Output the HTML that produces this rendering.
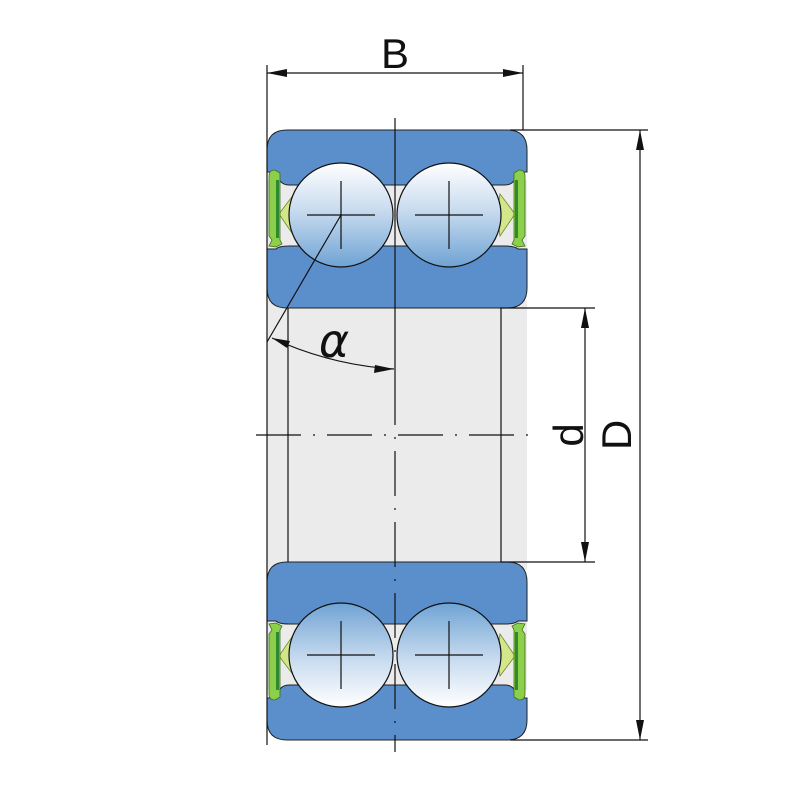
<!DOCTYPE html>
<html><head><style>body{margin:0;background:#fff}svg{display:block}</style></head><body>
<svg width="800" height="800" viewBox="0 0 800 800" xmlns="http://www.w3.org/2000/svg">
<defs>
<linearGradient id="ball" x1="0" y1="0" x2="0" y2="1">
<stop offset="0" stop-color="#ffffff"/><stop offset="0.45" stop-color="#c9dcef"/><stop offset="1" stop-color="#6fa3d4"/>
</linearGradient>
<g id="half">
<rect x="267" y="180" width="260" height="72" fill="#ebebeb"/>
<path d="M287,130 H507 Q527,130 527,150 V172 H518 Q515,185 505,185 H289 Q279,185 276,172 H267 V150 Q267,130 287,130 Z" fill="#5b8fcc" stroke="#222" stroke-width="1"/>
<path d="M267,249 H276 Q279,246 289,246 H505 Q515,246 518,249 H527 V288 Q527,308 507,308 H287 Q267,308 267,288 Z" fill="#5b8fcc" stroke="#222" stroke-width="1"/>
<path d="M279,214 L294,194 L297,214 L294,236 Z" fill="#d4e68a" stroke="#6a8a2a" stroke-width="0.8"/>
<path d="M515,214 L500,194 L497,214 L500,236 Z" fill="#d4e68a" stroke="#6a8a2a" stroke-width="0.8"/>
<path d="M269,176 Q269,170 275,170 L280,173 L280,240 L282,244 L276,247 L269,246 L272,240 L269,236 Z" fill="#8ccf4a" stroke="#3d6e1c" stroke-width="0.8"/>
<rect x="276" y="180" width="3" height="58" fill="#2f8a2f"/>
<path d="M525,176 Q525,170 519,170 L514,173 L514,240 L512,244 L518,247 L525,246 L522,240 L525,236 Z" fill="#8ccf4a" stroke="#3d6e1c" stroke-width="0.8"/>
<rect x="515" y="180" width="3" height="58" fill="#2f8a2f"/>
<circle cx="341" cy="215" r="52" fill="url(#ball)" stroke="#111" stroke-width="1.2"/>
<circle cx="449" cy="215" r="52" fill="url(#ball)" stroke="#111" stroke-width="1.2"/>
<g stroke="#111" stroke-width="1.2">
<line x1="307" y1="215" x2="375" y2="215"/><line x1="341" y1="181" x2="341" y2="249"/>
<line x1="415" y1="215" x2="483" y2="215"/><line x1="449" y1="181" x2="449" y2="249"/>
</g>
</g>
</defs>
<rect x="267" y="300" width="260" height="270" fill="#ebebeb"/>
<use href="#half"/>
<use href="#half" transform="translate(0,870) scale(1,-1)"/>
<g stroke="#111" stroke-width="1.2" fill="none">
<line x1="288" y1="308" x2="288" y2="562"/>
<line x1="501" y1="308" x2="501" y2="562"/>
<line x1="395" y1="118" x2="395" y2="380"/>
<line x1="395" y1="380" x2="395" y2="752" stroke-dasharray="45,12,2,12"/>
<line x1="256" y1="435" x2="540" y2="435" stroke-dasharray="45,12,2,12"/>
<line x1="267" y1="65" x2="267" y2="745"/>
<line x1="523" y1="65" x2="523" y2="130"/>
<line x1="267" y1="73" x2="523" y2="73"/>
<line x1="510" y1="130" x2="648" y2="130"/>
<line x1="510" y1="740" x2="648" y2="740"/>
<line x1="640" y1="130" x2="640" y2="740"/>
<line x1="500" y1="308" x2="595" y2="308"/>
<line x1="500" y1="562" x2="595" y2="562"/>
<line x1="585" y1="308" x2="585" y2="562"/>
<line x1="341" y1="215" x2="267" y2="342"/>
<path d="M272,338 Q330,365 394,369"/>
</g>
<g fill="#111">
<polygon points="267,73 287,69 287,77"/><polygon points="523,73 503,69 503,77"/>
<polygon points="640,130 636,150 644,150"/><polygon points="640,740 636,720 644,720"/>
<polygon points="585,308 581,328 589,328"/><polygon points="585,562 581,542 589,542"/>
<polygon points="272,338 290,341 287,348"/><polygon points="394,369 375,365 374,373"/>
</g>
<g font-family="Liberation Sans, sans-serif" font-size="42" fill="#111" text-anchor="middle">
<text x="395" y="68">B</text>
<text x="334" y="357" font-family="DejaVu Sans, sans-serif" font-size="46" font-style="italic">α</text>
<text transform="translate(583,435) rotate(-90)">d</text>
<text transform="translate(631,435) rotate(-90)">D</text>
</g>
</svg>
</body></html>
